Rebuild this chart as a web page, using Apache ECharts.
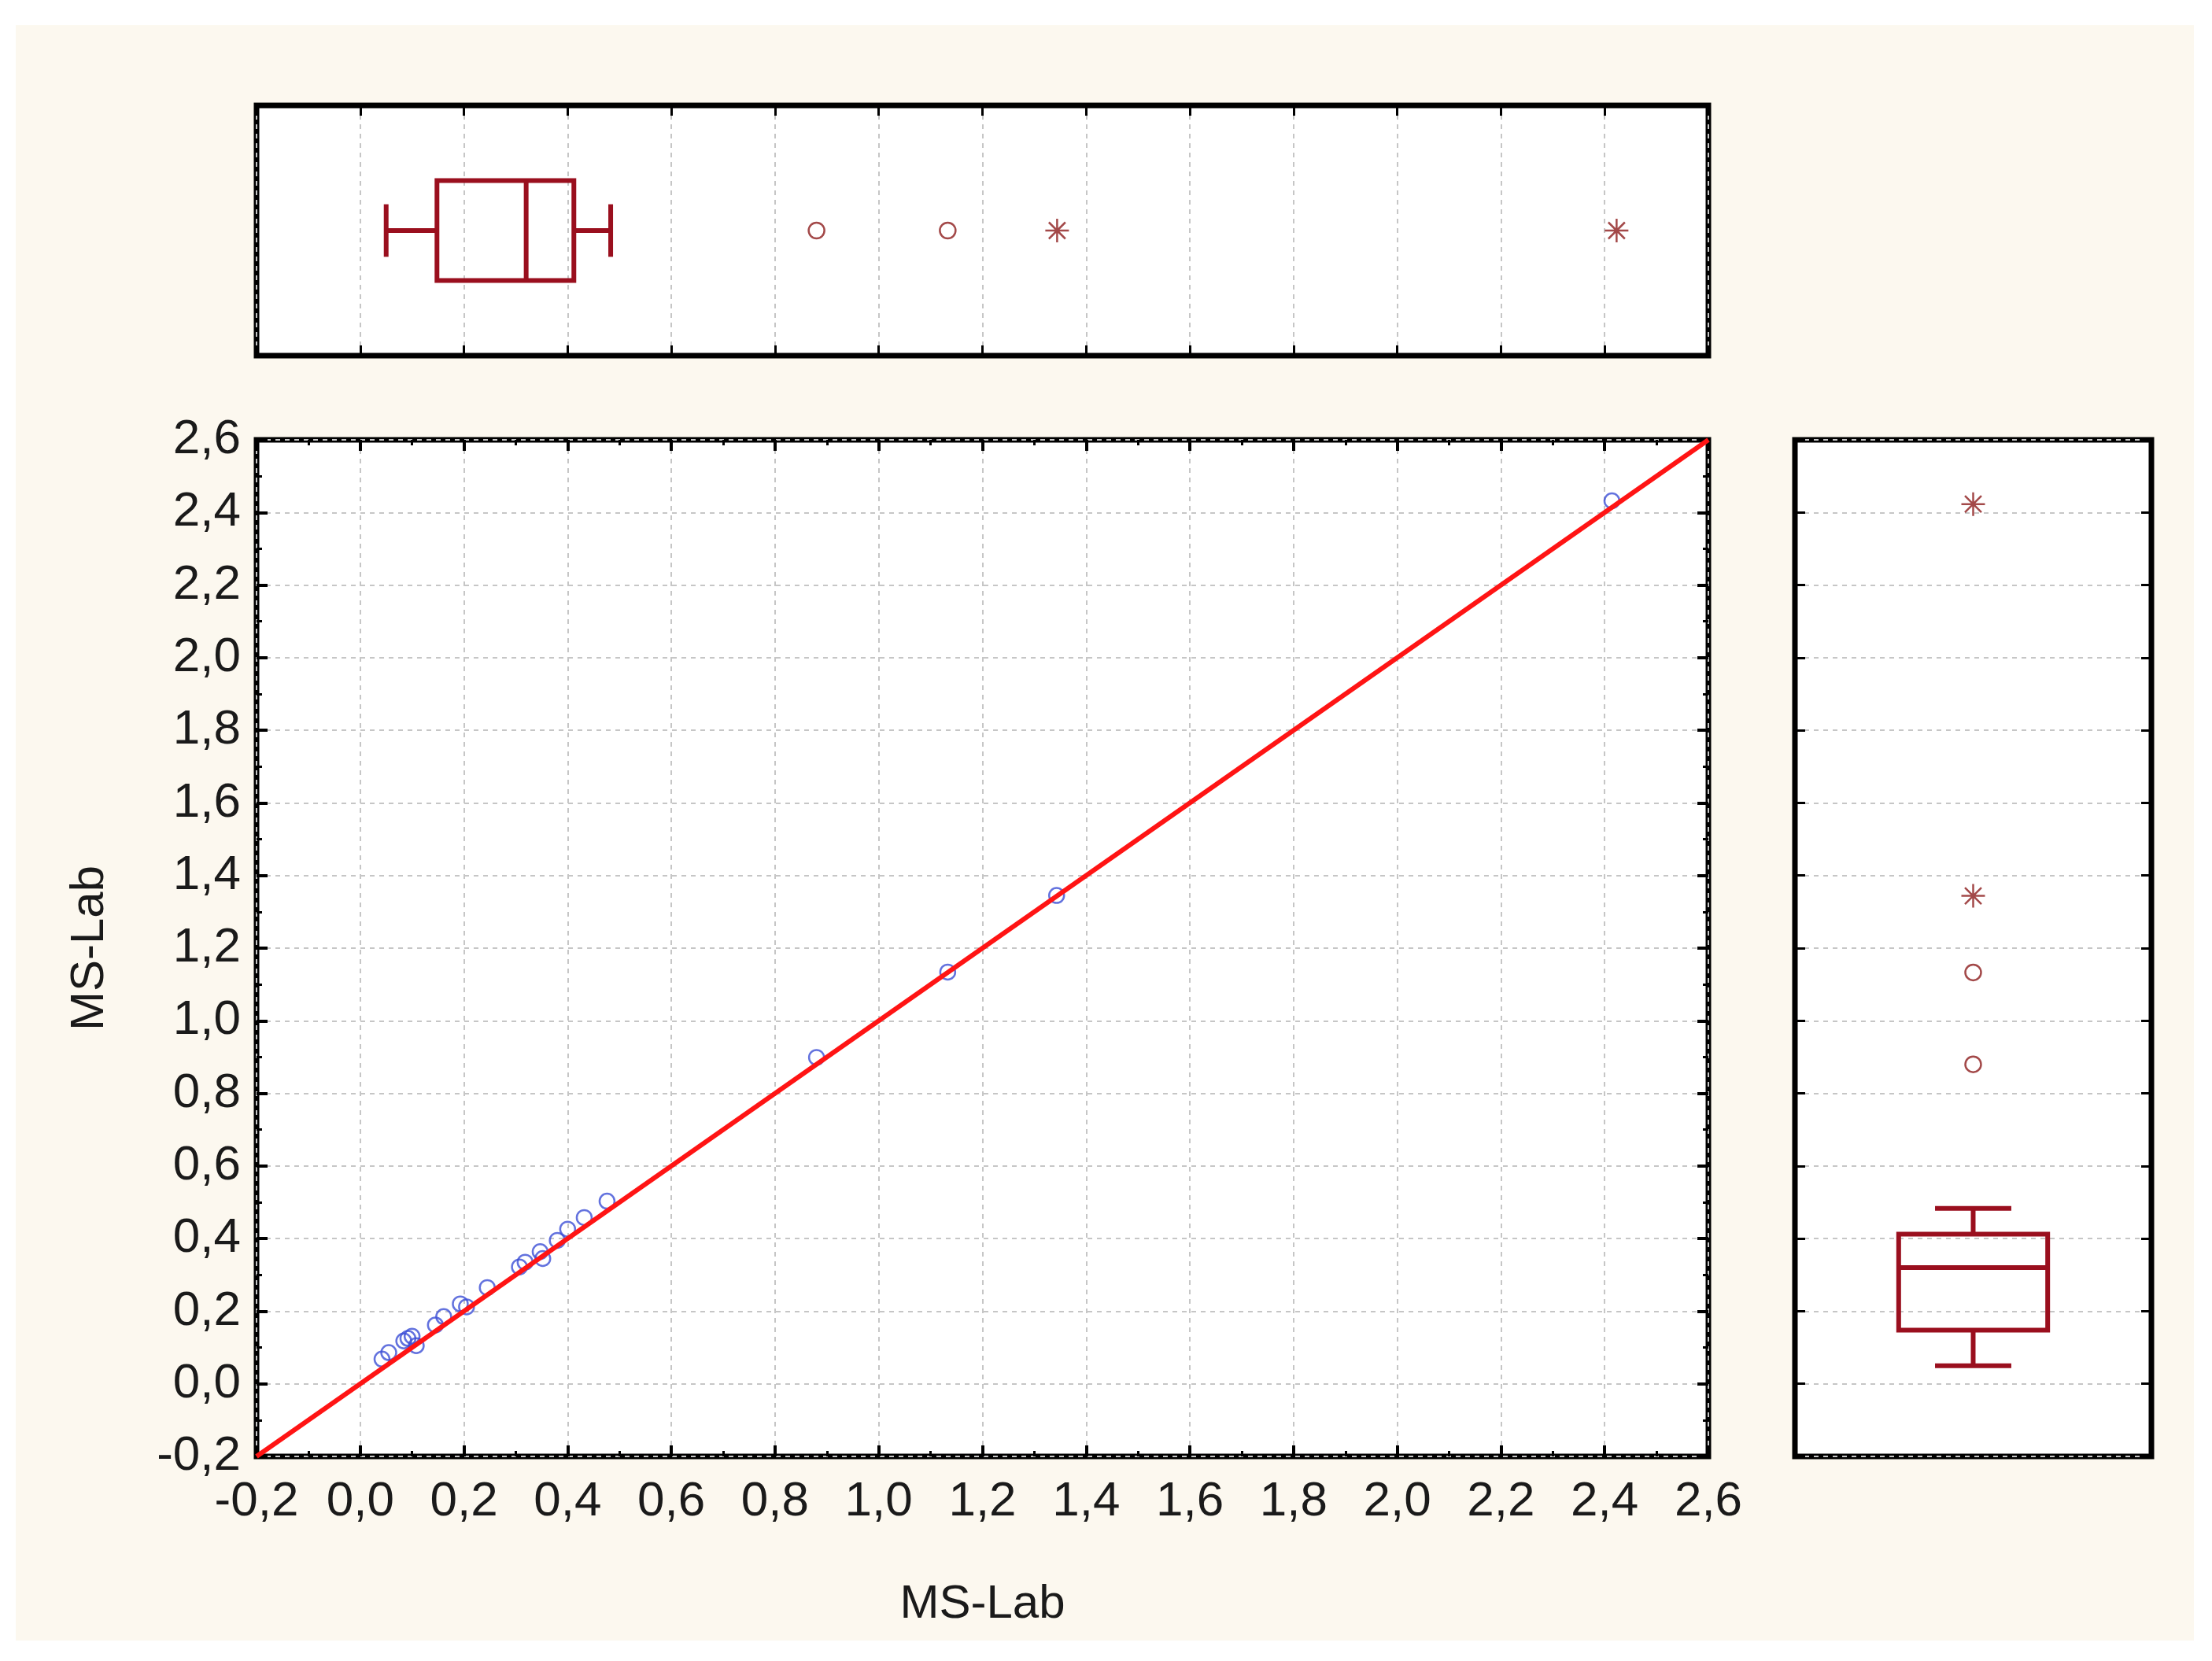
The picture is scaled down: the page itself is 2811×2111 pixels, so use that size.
<!DOCTYPE html>
<html>
<head>
<meta charset="utf-8">
<script src="https://cdn.jsdelivr.net/npm/echarts@6/dist/echarts.min.js"></script>
<style>
  html, body { margin: 0; padding: 0; background: #fff; }
  #paper { position: absolute; left: 20px; top: 32px; width: 2768px; height: 2053px; background: #fcf8ef; }
  #main { position: absolute; left: 0; top: 0; width: 2811px; height: 2111px; }
</style>
</head>
<body>
<div id="paper"></div>
<div id="main"></div>
<script>
// MS-Lab vs MS-Lab, paired values
var msX = [0.042, 0.055, 0.084, 0.092, 0.100, 0.108, 0.145, 0.161, 0.193, 0.205, 0.245,
           0.307, 0.318, 0.347, 0.352, 0.380, 0.400, 0.432, 0.476, 0.880, 1.133, 1.343, 2.414];
var msY = [0.068, 0.086, 0.118, 0.125, 0.131, 0.105, 0.162, 0.185, 0.220, 0.212, 0.265,
           0.322, 0.335, 0.364, 0.345, 0.395, 0.426, 0.458, 0.503, 0.899, 1.134, 1.345, 2.432];

// fitted line
var fitX = [-0.2, 2.6];
var fitY = [-0.2, 2.6];

// box plot: whisker low, Q1, median, Q3, whisker high
var boxStats = [0.050, 0.148, 0.320, 0.412, 0.483];
var outlierVals = [0.880, 1.133];   // circles
var extremeVals = [1.344, 2.423];   // asterisks

var FONT = '"Liberation Sans", Arial, sans-serif';
var BOX_RED = '#9a0f1e';
var gridLine = { color: '#c6c6c6', width: 2, type: [6, 6] };
var fmt = function (v) { return v.toFixed(1).replace('.', ','); };

function valueAxis(extra) {
  return Object.assign({
    type: 'value', min: -0.2, max: 2.6, interval: 0.2,
    axisLine: { show: false, onZero: false },
    axisTick: { show: true, inside: true, length: 14, lineStyle: { color: '#000', width: 4 } },
    minorTick: { show: true, splitNumber: 2, length: 7, lineStyle: { color: '#000', width: 3 } },
    axisLabel: { show: false },
    splitLine: { show: false }
  }, extra);
}

var sideTick = { show: true, inside: true, length: 13, lineStyle: { color: '#000', width: 3 } };
var tickLabel = { show: true, formatter: fmt, fontSize: 62, color: '#1a1a1a', fontFamily: FONT };
var nameStyle = { fontSize: 60, color: '#1a1a1a', fontFamily: FONT };

// custom box drawing, so the whisker caps can be shorter than the box
function boxRender(horizontal, halfBox, halfCap) {
  return function (params, api) {
    var cat = api.value(0);
    var pt = function (v) { return horizontal ? api.coord([v, cat]) : api.coord([cat, v]); };
    var band = horizontal ? api.size([0, 1])[1] : api.size([1, 0])[0];
    var hb = band * halfBox, hc = band * halfCap;
    var p = [1, 2, 3, 4, 5].map(function (i) { return pt(api.value(i)); });
    var style = { stroke: BOX_RED, lineWidth: 6, fill: 'none' };
    var line = function (x1, y1, x2, y2) {
      return { type: 'line', shape: { x1: x1, y1: y1, x2: x2, y2: y2 }, style: style };
    };
    var kids;
    if (horizontal) {
      var y = p[0][1];
      kids = [
        line(p[0][0], y, p[1][0], y),
        line(p[3][0], y, p[4][0], y),
        line(p[0][0], y - hc, p[0][0], y + hc),
        line(p[4][0], y - hc, p[4][0], y + hc),
        { type: 'rect', shape: { x: p[1][0], y: y - hb, width: p[3][0] - p[1][0], height: 2 * hb }, style: style },
        line(p[2][0], y - hb, p[2][0], y + hb)
      ];
    } else {
      var x = p[0][0];
      kids = [
        line(x, p[0][1], x, p[1][1]),
        line(x, p[3][1], x, p[4][1]),
        line(x - hc, p[0][1], x + hc, p[0][1]),
        line(x - hc, p[4][1], x + hc, p[4][1]),
        { type: 'rect', shape: { x: x - hb, y: p[3][1], width: 2 * hb, height: p[1][1] - p[3][1] }, style: style },
        line(x - hb, p[2][1], x + hb, p[2][1])
      ];
    }
    return { type: 'group', children: kids };
  };
}

var asterisk = 'path://M0,10 L20,10 M10,0 L10,20 M3,3 L17,17 M17,3 L3,17';
var outCircle = { color: 'rgba(0,0,0,0)', borderColor: '#8c1c1c', borderWidth: 2.5 };
var outStar = { color: '#8c1c1c', borderColor: '#8c1c1c', borderWidth: 2.5 };

var chart = echarts.init(document.getElementById('main'));
chart.setOption({
  animation: false,
  backgroundColor: 'transparent',
  grid: [
    { left: 326, top: 559, width: 1845, height: 1292, show: true, backgroundColor: '#fff', borderColor: '#000', borderWidth: 7 },
    { left: 326, top: 134, width: 1845, height: 318, show: true, backgroundColor: '#fff', borderColor: '#000', borderWidth: 7 },
    { left: 2281, top: 559, width: 453, height: 1292, show: true, backgroundColor: '#fff', borderColor: '#000', borderWidth: 7 }
  ],
  xAxis: [
    valueAxis({ gridIndex: 0, position: 'bottom',
      axisLabel: Object.assign({ margin: 27 }, tickLabel),
      splitLine: { show: true, lineStyle: gridLine },
      name: 'MS-Lab', nameLocation: 'middle', nameGap: 158, nameTextStyle: nameStyle }),
    valueAxis({ gridIndex: 0, position: 'top' }),
    valueAxis({ gridIndex: 1, position: 'bottom', axisTick: sideTick, minorTick: { show: false },
      splitLine: { show: true, lineStyle: gridLine } }),
    valueAxis({ gridIndex: 1, position: 'top', axisTick: sideTick, minorTick: { show: false } }),
    { gridIndex: 2, type: 'category', data: ['MS-Lab'], show: false }
  ],
  yAxis: [
    valueAxis({ gridIndex: 0, position: 'left',
      axisLabel: Object.assign({ margin: 20 }, tickLabel),
      splitLine: { show: true, lineStyle: gridLine },
      name: 'MS-Lab', nameLocation: 'middle', nameGap: 182, nameTextStyle: nameStyle }),
    valueAxis({ gridIndex: 0, position: 'right' }),
    { gridIndex: 1, type: 'category', data: ['MS-Lab'], show: false },
    valueAxis({ gridIndex: 2, position: 'left', axisTick: sideTick, minorTick: { show: false },
      splitLine: { show: true, lineStyle: gridLine } }),
    valueAxis({ gridIndex: 2, position: 'right', axisTick: sideTick, minorTick: { show: false } })
  ],
  series: [
    {
      type: 'scatter', xAxisIndex: 0, yAxisIndex: 0,
      data: msX.map(function (x, i) { return [x, msY[i]]; }),
      symbol: 'circle', symbolSize: 19,
      itemStyle: { color: 'rgba(0,0,0,0)', borderColor: '#3c4fd6', borderWidth: 2.5 }
    },
    {
      type: 'line', xAxisIndex: 0, yAxisIndex: 0,
      data: fitX.map(function (x, i) { return [x, fitY[i]]; }),
      symbol: 'none', lineStyle: { color: '#ff1414', width: 6 }, z: 3
    },
    // top panel (horizontal box)
    {
      type: 'custom', xAxisIndex: 2, yAxisIndex: 2,
      data: [[0].concat(boxStats)], encode: { x: [1, 2, 3, 4, 5], y: 0 },
      renderItem: boxRender(true, 0.2, 0.105)
    },
    {
      type: 'scatter', xAxisIndex: 2, yAxisIndex: 2, symbol: 'circle', symbolSize: 20,
      data: outlierVals.map(function (v) { return [v, 0]; }), itemStyle: outCircle
    },
    {
      type: 'scatter', xAxisIndex: 2, yAxisIndex: 2, symbol: asterisk, symbolSize: 30,
      data: extremeVals.map(function (v) { return [v, 0]; }), itemStyle: outStar
    },
    // right panel (vertical box)
    {
      type: 'custom', xAxisIndex: 4, yAxisIndex: 3,
      data: [[0].concat(boxStats)], encode: { x: 0, y: [1, 2, 3, 4, 5] },
      renderItem: boxRender(false, 0.209, 0.107)
    },
    {
      type: 'scatter', xAxisIndex: 4, yAxisIndex: 3, symbol: 'circle', symbolSize: 20,
      data: outlierVals.map(function (v) { return [0, v]; }), itemStyle: outCircle
    },
    {
      type: 'scatter', xAxisIndex: 4, yAxisIndex: 3, symbol: asterisk, symbolSize: 30,
      data: extremeVals.map(function (v) { return [0, v]; }), itemStyle: outStar
    }
  ]
});
</script>
</body>
</html>
